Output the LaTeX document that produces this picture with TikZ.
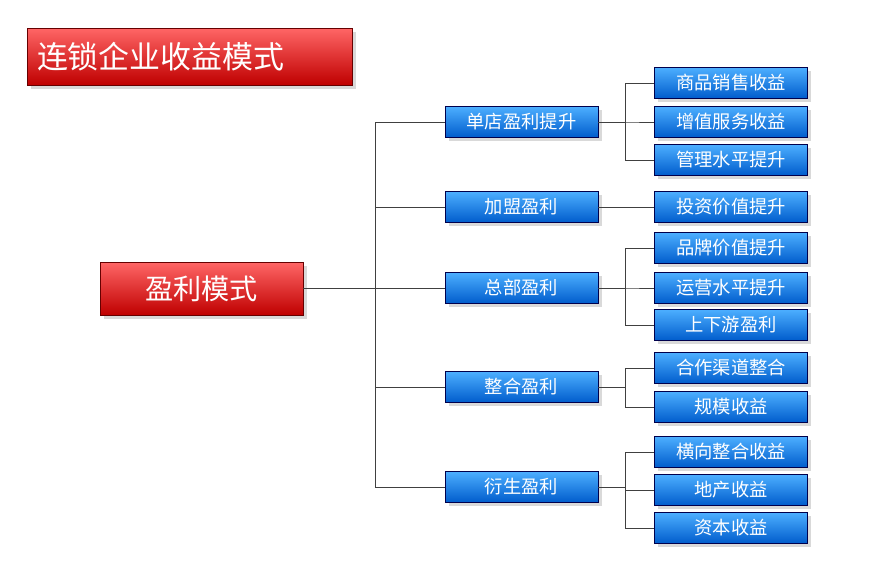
\documentclass[tikz,border=0pt]{standalone}
\usepackage{fontspec}
\setmainfont{Noto Sans CJK SC}
\usetikzlibrary{positioning,shadows}
\colorlet{boxblue}{blue!55!cyan!80!black}
\colorlet{boxred}{red!75!black}
\newcommand{\pxu}{0.025cm}
\tikzset{
  redbox/.style={draw=red!40!black,top color=red!60,bottom color=boxred,
    text=white,drop shadow={opacity=.3},inner sep=0pt},
  bluebox/.style={draw=blue!30!black,top color=blue!45!cyan!70,bottom color=boxblue,
    text=white,minimum width=153*\pxu,minimum height=31*\pxu,font=\fontsize{13}{15}\selectfont,
    drop shadow={opacity=.3},inner sep=0pt},
  link/.style={draw=black!75,line width=0.7pt}
}
\begin{document}
\begin{tikzpicture}[x=\pxu,y=-\pxu]
\useasboundingbox (0,0) rectangle (887,580);
\node[redbox,minimum width=325*\pxu,minimum height=57*\pxu,text width=305*\pxu,
  font=\fontsize{22}{26}\selectfont,align=left] (title) at (189.5,56.5) {连锁企业收益模式};
\node[redbox,minimum width=203*\pxu,minimum height=53*\pxu,font=\fontsize{20}{24}\selectfont] (root) at (201.5,288.5) {盈利模式};
% middle level
\foreach \n/\y/\t in {m1/122/单店盈利提升,m2/207/加盟盈利,m3/288/总部盈利,m4/387/整合盈利,m5/487/衍生盈利}
  \node[bluebox] (\n) at (521.5,\y) {\t};
% leaves
\foreach \n/\y/\t in {a1/83/商品销售收益,a2/122/增值服务收益,a3/160/管理水平提升,
    b1/207/投资价值提升,c1/248/品牌价值提升,c2/288/运营水平提升,c3/325/上下游盈利,
    d1/368/合作渠道整合,d2/407/规模收益,e1/452/横向整合收益,e2/490/地产收益,e3/528/资本收益}
  \node[bluebox] (\n) at (731,\y) {\t};
% trunk
\coordinate (t) at (375,288.5);
\draw[link] (root.east) -- (t);
\foreach \n in {m1,m2,m3,m4,m5}
  \draw[link] (t) |- (\n.west);
% branches
\foreach \m/\l in {m1/a1,m1/a2,m1/a3,m3/c1,m3/c2,m3/c3,m4/d1,m4/d2,m5/e1,m5/e2,m5/e3}
  \draw[link] (\m.east) -- ++(27,0) |- (\l.west);
\draw[link] (m2.east) -- (b1.west);
\end{tikzpicture}
\end{document}
